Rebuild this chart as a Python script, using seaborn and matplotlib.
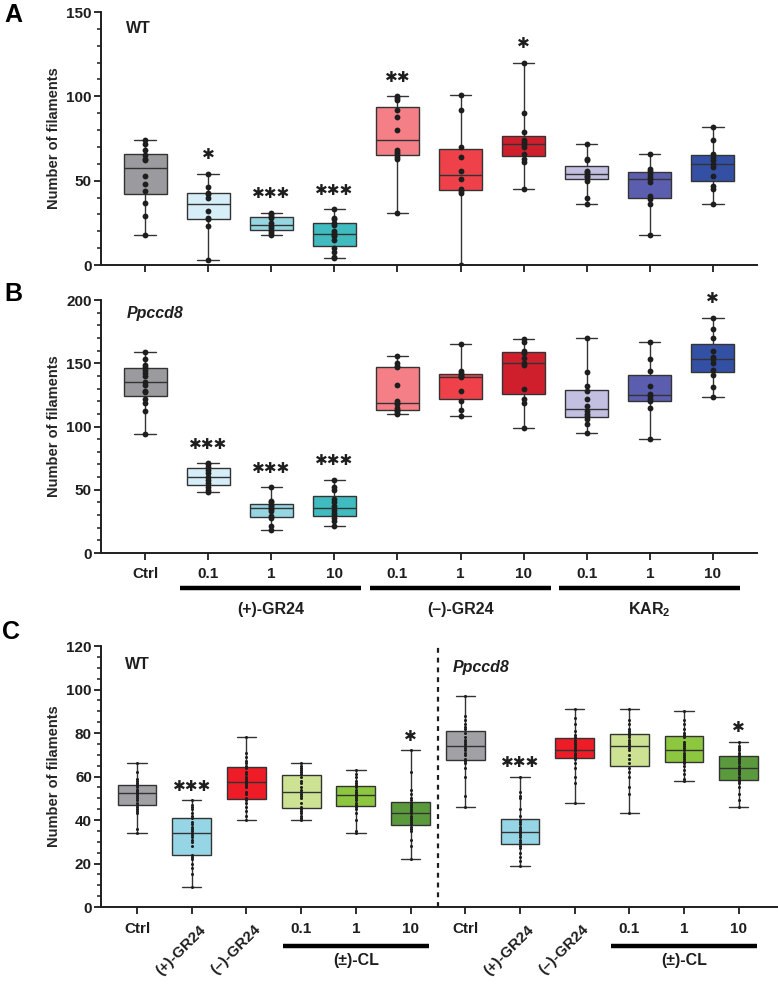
import matplotlib
matplotlib.use('Agg')
import matplotlib.pyplot as plt
import matplotlib.transforms as mtransforms
import seaborn as sns
import pandas as pd
from matplotlib.ticker import MultipleLocator

# ---- data ----
ab_conditions = ['Ctrl', 'p0.1', 'p1', 'p10', 'm0.1', 'm1', 'm10', 'k0.1', 'k1', 'k10']
ab_tick_labels = ['Ctrl', '0.1', '1', '10', '0.1', '1', '10', '0.1', '1', '10']
ab_colors = ['#9B9B9F', '#D5EEF7', '#96D6E3', '#40BCC0', '#F47F86', '#EE4149',
             '#CF1F2D', '#C2BFE0', '#5B5EAE', '#3350A5']

# panel A, WT
a_values = [
    [74, 72, 68, 65, 63, 62, 53, 48, 44, 37, 29, 18],
    [54, 46, 43, 42, 40, 32, 28, 27, 23, 3],
    [31, 30, 29, 28, 25, 23, 22, 20, 19, 18],
    [33, 28, 27, 25, 24, 20, 19, 18, 17, 15, 10, 8, 5, 4],
    [100, 99, 98, 92, 88, 80, 68, 67, 66, 64, 63, 31],
    [101, 92, 70, 64, 56, 51, 45, 44, 43, 0],
    [120, 90, 79, 74, 73, 72, 70, 66, 63, 61, 45],
    [72, 63, 62, 56, 55, 54, 53, 52, 50, 40, 36],
    [66, 57, 56, 54, 52, 51, 49, 41, 39, 36, 18],
    [82, 74, 66, 64, 62, 60, 58, 53, 47, 45, 36],
]
a_stars = ['', '*', '***', '***', '**', '', '*', '', '', '']

# panel B, Ppccd8
b_values = [
    [159, 153, 149, 147, 145, 142, 140, 135, 133, 128, 127, 122, 119, 112, 94],
    [71, 70, 68, 66, 63, 60, 58, 55, 52, 50, 48],
    [52, 41, 40, 38, 37, 36, 35, 33, 29, 28, 21, 18],
    [58, 52, 50, 43, 40, 37, 34, 32, 30, 28, 25, 21],
    [156, 150, 148, 147, 133, 120, 119, 118, 115, 113, 112, 111, 110],
    [165, 144, 142, 141, 140, 139, 128, 120, 113, 108],
    [169, 167, 160, 158, 154, 150, 149, 130, 122, 119, 99],
    [170, 143, 132, 128, 122, 116, 112, 110, 108, 106, 102, 95],
    [167, 153, 144, 132, 126, 124, 122, 120, 115, 90],
    [186, 177, 170, 160, 155, 153, 150, 145, 141, 131, 123],
]
b_stars = ['', '***', '***', '***', '', '', '', '', '', '*']

ab_groups = ['(+)-GR24', '(–)-GR24', r'KAR$_\mathbf{2}$']

# panel C, WT (left half) and Ppccd8 (right half)
c_conditions = ['wCtrl', 'wP', 'wM', 'w0.1', 'w1', 'w10',
                'pCtrl', 'pP', 'pM', 'p0.1', 'p1', 'p10']
c_tick_labels = ['Ctrl', '(+)-GR24', '(–)-GR24', '0.1', '1', '10',
                 'Ctrl', '(+)-GR24', '(–)-GR24', '0.1', '1', '10']
c_colors = ['#A0A0A5', '#96D5E6', '#EE1C26', '#CDE393', '#8DC63F', '#5B9A3C'] * 2
c_values = [
    [66, 62, 59, 58, 57, 56, 56, 55, 54, 54, 53, 53, 52, 51, 50, 49, 48, 47, 46, 45, 44, 43, 36, 34],
    [49, 47, 46, 45, 43, 42, 41, 39, 38, 37, 36, 35, 34, 33, 32, 31, 30, 28, 24, 23, 22, 20, 18, 15, 9],
    [78, 71, 69, 67, 66, 65, 64, 62, 61, 60, 59, 58, 57, 56, 55, 53, 52, 50, 49, 48, 46, 44, 42, 40],
    [66, 65, 64, 63, 62, 61, 60, 58, 57, 55, 54, 53, 52, 51, 50, 48, 46, 45, 44, 43, 42, 41, 40],
    [63, 61, 60, 58, 57, 56, 55, 54, 53, 52, 52, 51, 50, 49, 48, 47, 46, 45, 43, 40, 35, 34],
    [72, 62, 54, 52, 50, 49, 48, 47, 46, 45, 44, 43, 42, 41, 40, 39, 38, 37, 36, 35, 31, 28, 22],
    [97, 88, 86, 84, 83, 82, 80, 78, 77, 76, 75, 74, 73, 72, 71, 70, 68, 67, 66, 64, 60, 51, 46],
    [60, 53, 51, 50, 45, 42, 40, 39, 38, 37, 36, 35, 34, 33, 32, 31, 30, 29, 28, 27, 25, 23, 21, 19],
    [91, 87, 84, 81, 79, 78, 77, 76, 75, 74, 73, 72, 72, 71, 70, 70, 69, 68, 66, 64, 60, 57, 48],
    [91, 86, 84, 82, 81, 80, 79, 78, 77, 76, 75, 74, 73, 72, 70, 68, 66, 64, 62, 60, 55, 52, 43],
    [90, 86, 84, 82, 80, 79, 78, 76, 75, 74, 73, 72, 71, 70, 69, 68, 67, 66, 65, 63, 61, 59, 58],
    [76, 74, 73, 72, 71, 70, 69, 68, 67, 66, 65, 64, 63, 62, 61, 60, 59, 58, 57, 55, 52, 49, 46],
]
c_stars = ['', '***', '', '', '', '*', '', '***', '', '', '', '*']

sns.set_style('ticks')
plt.rcParams['font.family'] = ['Liberation Sans', 'DejaVu Sans']
plt.rcParams['font.weight'] = 'bold'
plt.rcParams['axes.labelweight'] = 'bold'
plt.rcParams['mathtext.fontset'] = 'custom'
plt.rcParams['mathtext.rm'] = 'Liberation Sans'
plt.rcParams['mathtext.bf'] = 'Liberation Sans:bold'

INK = '#1e1e1e'


def draw_panel(ax, conditions, values, colors, stars, ymax, major, minor,
               width, dot, star_off, xpad):
    df = pd.DataFrame({
        'cond': [c for c, v in zip(conditions, values) for _ in v],
        'val': [x for v in values for x in v],
    })
    sns.boxplot(data=df, x='cond', y='val', hue='cond', order=conditions,
                hue_order=conditions, palette=colors, whis=(0, 100),
                width=width, saturation=1, linecolor='#333333', linewidth=1.0,
                showfliers=False, legend=False, ax=ax)
    sns.stripplot(data=df, x='cond', y='val', order=conditions, jitter=False,
                  color=INK, size=dot, ax=ax)
    # significance marks above the max of each group
    for i, (s, v) in enumerate(zip(stars, values)):
        if s:
            ax.text(i, max(v) + star_off * ymax, s.replace('*', '✱'),
                    ha='center', va='center', fontsize=11, color=INK,
                    family=['DejaVu Sans'], clip_on=False)
    ax.set_ylim(0, ymax)
    ax.yaxis.set_major_locator(MultipleLocator(major))
    ax.yaxis.set_minor_locator(MultipleLocator(minor))
    ax.set_xlabel('')
    ax.set_ylabel('Number of filaments', fontsize=10.5, labelpad=4)
    sns.despine(ax=ax)
    for sp in ['left', 'bottom']:
        ax.spines[sp].set_linewidth(1.4)
        ax.spines[sp].set_color(INK)
    ax.tick_params(axis='both', which='major', length=5, width=1.3,
                   color=INK, labelsize=11, labelcolor=INK)
    ax.tick_params(axis='y', which='major', pad=1.5)
    ax.tick_params(axis='x', which='major', pad=xpad)
    ax.tick_params(axis='y', which='minor', length=3, width=1.1, color=INK)


def group_bar(ax, x0, x1, label, y_line, y_text):
    trans = ax.get_xaxis_transform()
    ax.plot([x0, x1], [y_line, y_line], color='black', lw=3.2,
            transform=trans, clip_on=False, solid_capstyle='butt')
    ax.text((x0 + x1) / 2, y_text, label, transform=trans, ha='center',
            va='center', fontsize=11.5, color=INK)


fig = plt.figure(figsize=(7.78, 9.86), dpi=100)

# ---- A ----
ax_a = fig.add_axes([0.1298, 0.7312, 0.8432, 0.2566])
draw_panel(ax_a, ab_conditions, a_values, ab_colors, a_stars, 150, 50, 10,
           0.68, 4.2, 0.075, 4)
ax_a.set_xlim(-0.7, 9.7)
ax_a.set_xticks(range(len(ab_conditions)))
ax_a.set_xticklabels([])
ax_a.text(-0.1, 140, 'WT', ha='center', va='center', fontsize=11.5, color=INK)

# ---- B ----
ax_b = fig.add_axes([0.1298, 0.4391, 0.8432, 0.2566])
draw_panel(ax_b, ab_conditions, b_values, ab_colors, b_stars, 200, 50, 10,
           0.68, 4.2, 0.075, 5)
ax_b.set_xlim(-0.7, 9.7)
ax_b.set_xticks(range(len(ab_conditions)))
ax_b.set_xticklabels(ab_tick_labels)
ax_b.text(0.16, 189, 'Ppccd8', ha='center', va='center', fontsize=11.5,
          style='italic', color=INK)
for g, name in enumerate(ab_groups):
    start = 1 + 3 * g
    group_bar(ax_b, start - 0.44, start + 2 + 0.43, name, -0.138, -0.225)

# ---- C ----
ax_c = fig.add_axes([0.1298, 0.0801, 0.8689, 0.2647])
draw_panel(ax_c, c_conditions, c_values, c_colors, c_stars, 120, 20, 5,
           0.71, 2.2, 0.055, 6)
ax_c.set_xlim(-0.66, 11.7)
ax_c.set_xticks(range(len(c_conditions)))
ax_c.set_xticklabels(c_tick_labels)
shift = mtransforms.ScaledTranslation(5 / 72, 0, fig.dpi_scale_trans)
for lab in ax_c.get_xticklabels():
    if 'GR24' in lab.get_text():
        lab.set_rotation(45)
        lab.set_ha('right')
        lab.set_va('top')
        lab.set_rotation_mode('anchor')
        lab.set_transform(lab.get_transform() + shift)
ax_c.axvline(5.5, ymin=0, ymax=1.01, color=INK, lw=1.6, ls=(0, (2.2, 2.2)),
             clip_on=False)
ax_c.text(0, 111.7, 'WT', ha='center', va='center', fontsize=11.5, color=INK)
ax_c.text(6.29, 110.3, 'Ppccd8', ha='center', va='center', fontsize=11.5,
          style='italic', color=INK)
for start in (3, 9):
    group_bar(ax_c, start - 0.33, start + 2 + 0.33, '(±)-CL', -0.149, -0.205)

# panel letters
fig.text(0.005, 0.997, 'A', fontsize=18, va='top', ha='left', color='black')
fig.text(0.005, 0.714, 'B', fontsize=18, va='top', ha='left', color='black')
fig.text(0.002, 0.371, 'C', fontsize=18, va='top', ha='left', color='black')

fig.savefig('out.png', dpi=100)
